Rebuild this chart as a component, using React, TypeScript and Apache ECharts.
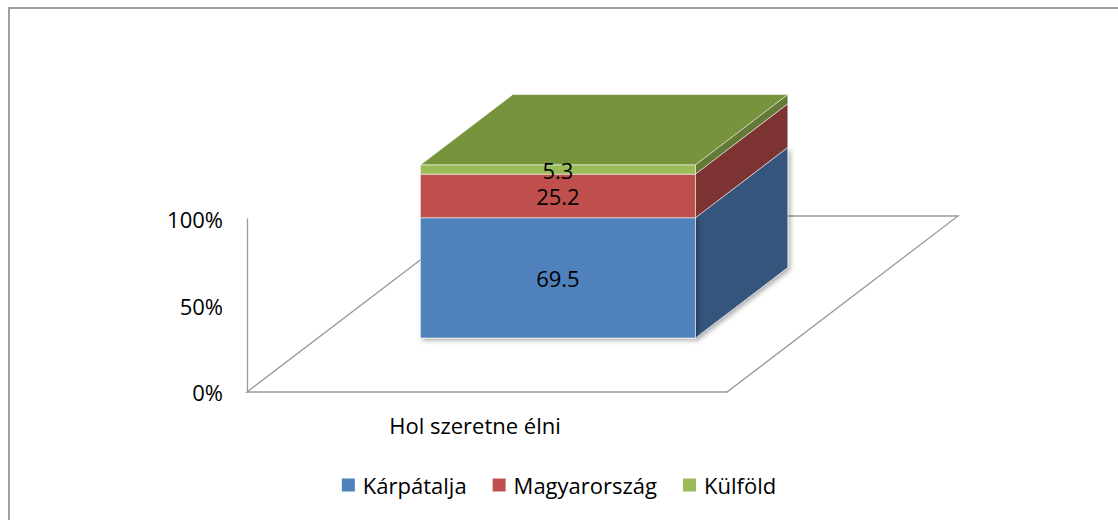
import React, { useEffect, useRef } from "react";
import * as echarts from "echarts";

const categories = ["Hol szeretne élni"];
const seriesNames = ["Kárpátalja", "Magyarország", "Külföld"];
const karpataljaValues = [69.5];
const magyarorszagValues = [25.2];
const kulfoldValues = [5.3];
const yMin = 0;
const yMax = 100;
const yInterval = 50;

const allValues = [karpataljaValues, magyarorszagValues, kulfoldValues];

const FRONT_COLORS = ["#4F81BD", "#C0504D", "#9BBB59"];
const SIDE_COLORS = ["#34557D", "#7D3331", "#637A36"];
const TOP_COLORS = ["#3D6491", "#94403D", "#77933C"];
const FONT = "'Open Sans', sans-serif";

const DEPTH = [231, -176];
const BOX_FROM = 0.307;
const BOX_TO = 0.707;
const BAR_RATIO = 0.573;

function stackedData(si: number) {
  return categories.map((_, ci) => {
    let start = 0;
    for (let k = 0; k < si; k++) start += allValues[k][ci];
    const v = allValues[si][ci];
    return [ci, start, start + v, v];
  });
}

function makeBoxRenderer(si: number) {
  return (params: any, api: any) => {
    const cat = api.value(0);
    const start = api.value(1);
    const end = api.value(2);
    const val = api.value(3);
    const p0 = api.coord([cat, start]);
    const p1 = api.coord([cat, end]);
    const band = api.size([1, 0])[0];
    const w = band * BAR_RATIO;
    const ox = DEPTH[0] * BOX_FROM;
    const oy = DEPTH[1] * BOX_FROM;
    const dx = DEPTH[0] * (BOX_TO - BOX_FROM);
    const dy = DEPTH[1] * (BOX_TO - BOX_FROM);
    const xl = p0[0] - w / 2 + ox;
    const xr = p0[0] + w / 2 + ox;
    const yb = p0[1] + oy;
    const yt = p1[1] + oy;
    const edge = "rgba(255,255,255,0.55)";
    const shadow =
      si === 0
        ? { shadowColor: "rgba(0,0,0,0.35)", shadowBlur: 5, shadowOffsetX: 2, shadowOffsetY: 2 }
        : {};
    return {
      type: "group",
      children: [
        {
          type: "polygon",
          shape: { points: [[xl, yt], [xr, yt], [xr + dx, yt + dy], [xl + dx, yt + dy]] },
          style: { fill: TOP_COLORS[si], stroke: edge, lineWidth: 1 },
        },
        {
          type: "polygon",
          shape: { points: [[xr, yb], [xr + dx, yb + dy], [xr + dx, yt + dy], [xr, yt]] },
          style: { fill: SIDE_COLORS[si], stroke: edge, lineWidth: 1, ...shadow },
        },
        {
          type: "rect",
          shape: { x: xl, y: yt, width: w, height: yb - yt },
          style: { fill: FRONT_COLORS[si], stroke: edge, lineWidth: 1, ...shadow },
        },
        {
          type: "text",
          x: (xl + xr) / 2,
          y: (yt + yb) / 2,
          style: {
            text: String(val),
            fill: "#000",
            font: `22px ${FONT}`,
            align: "center",
            verticalAlign: "middle",
          },
        },
      ],
    };
  };
}

function renderFloor(params: any, api: any) {
  const cs = params.coordSys;
  const x = cs.x;
  const y = cs.y + cs.height;
  const w = cs.width;
  return {
    type: "polygon",
    shape: {
      points: [
        [x, y],
        [x + w, y],
        [x + w + DEPTH[0], y + DEPTH[1]],
        [x + DEPTH[0], y + DEPTH[1]],
      ],
    },
    style: { fill: "none", stroke: "#9a9a9a", lineWidth: 1.3 },
  };
}

export default function App() {
  const ref = useRef<HTMLDivElement>(null);
  useEffect(() => {
    document.body.style.margin = "0";
    if (!ref.current) return;
    const chart = echarts.init(ref.current, null, { renderer: "svg" });
    chart.setOption({
      animation: false,
      backgroundColor: "#fff",
      textStyle: { fontFamily: FONT },
      graphic: [
        {
          type: "rect",
          shape: { x: 9, y: 8, width: 2000, height: 2000 },
          style: { fill: "none", stroke: "#a0a0a0", lineWidth: 2 },
          silent: true,
        },
      ],
      grid: { left: 247, right: 391, top: 219, bottom: 128, containLabel: false },
      legend: {
        data: seriesNames,
        left: "center",
        top: 469,
        icon: "rect",
        itemWidth: 13,
        itemHeight: 13,
        itemGap: 26,
        textStyle: { fontSize: 22, color: "#000", fontFamily: FONT, padding: [0, 0, 0, 3] },
      },
      xAxis: {
        type: "category",
        data: categories,
        axisLine: { show: false },
        axisTick: { show: false },
        axisLabel: {
          fontSize: 22,
          color: "#000",
          fontFamily: FONT,
          margin: 22,
          padding: [0, 24, 0, 0],
        },
      },
      yAxis: {
        type: "value",
        min: yMin,
        max: yMax,
        interval: yInterval,
        axisLine: { show: true, lineStyle: { color: "#9a9a9a", width: 1.3 } },
        axisTick: { show: false },
        splitLine: { show: false },
        axisLabel: {
          fontSize: 22,
          color: "#000",
          fontFamily: FONT,
          margin: 24,
          formatter: "{value}%",
        },
      },
      series: [
        {
          type: "custom",
          name: "floor",
          renderItem: renderFloor,
          data: [[0]],
          silent: true,
          itemStyle: { color: "#9a9a9a" },
        },
        ...seriesNames.map((name, si) => ({
          type: "custom",
          name,
          renderItem: makeBoxRenderer(si),
          data: stackedData(si),
          itemStyle: { color: FRONT_COLORS[si] },
          encode: { x: 0, y: [1, 2] },
        })),
      ],
    });
    return () => chart.dispose();
  }, []);
  return <div ref={ref} style={{ width: 1118, height: 520 }} />;
}
